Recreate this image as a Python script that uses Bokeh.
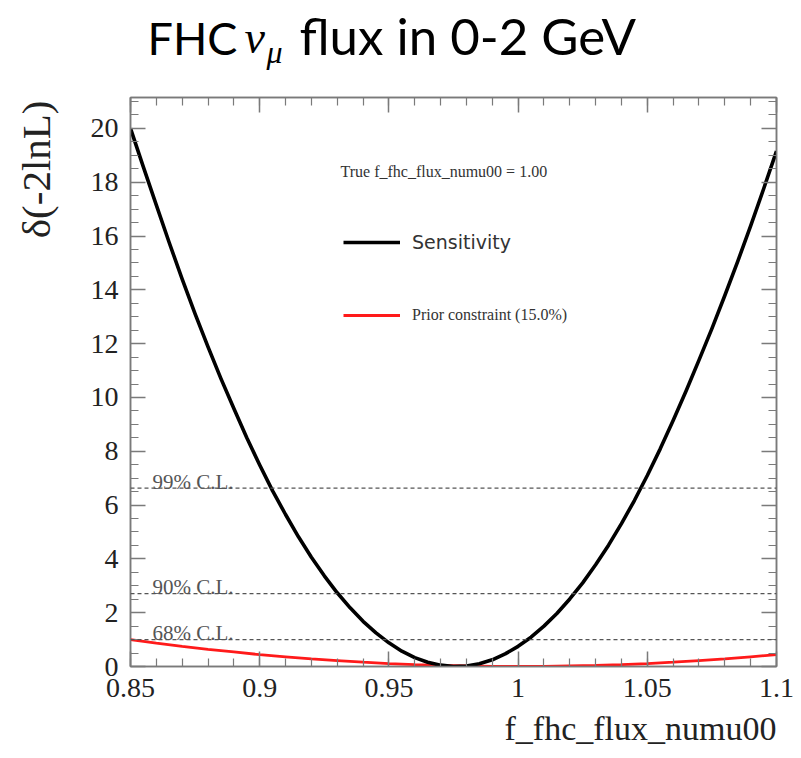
import numpy as np
from bokeh.plotting import figure
from bokeh.layouts import column, row
from bokeh.models import (FixedTicker, LinearAxis, Range1d, Span, Label, Title,
                          Legend, LegendItem, CustomJSTickFormatter)
from bokeh.embed import file_html
from bokeh.resources import INLINE

# ---------------- data ----------------
param_x = [0.85, 0.855, 0.86, 0.865, 0.87, 0.875, 0.88, 0.885, 0.89, 0.895,
           0.90, 0.905, 0.91, 0.915, 0.92, 0.925, 0.93, 0.935, 0.94, 0.945,
           0.95, 0.955, 0.96, 0.965, 0.97, 0.975, 0.98, 0.985, 0.99, 0.995,
           1.00, 1.005, 1.01, 1.015, 1.02, 1.025, 1.03, 1.035, 1.04, 1.045,
           1.05, 1.055, 1.06, 1.065, 1.07, 1.075, 1.08, 1.085, 1.09, 1.095, 1.10]
sensitivity = [20.0, 18.56, 17.15, 15.75, 14.40, 13.11, 11.88, 10.70, 9.59, 8.50,
               7.49, 6.53, 5.65, 4.82, 4.06, 3.37, 2.74, 2.18, 1.68, 1.25,
               0.88, 0.57, 0.33, 0.16, 0.05, 0.00, 0.02, 0.10, 0.25, 0.47,
               0.75, 1.09, 1.50, 1.97, 2.51, 3.11, 3.78, 4.51, 5.31, 6.17,
               7.10, 8.09, 9.14, 10.24, 11.39, 12.56, 13.79, 15.06, 16.38, 17.75, 19.16]

prior_x = [0.85, 0.86, 0.87, 0.88, 0.89, 0.90, 0.91, 0.92, 0.93, 0.94, 0.95,
           0.96, 0.97, 0.98, 0.99, 1.00, 1.01, 1.02, 1.03, 1.04, 1.05, 1.06,
           1.07, 1.08, 1.09, 1.10]
prior = [1.00, 0.87, 0.75, 0.64, 0.54, 0.44, 0.36, 0.28, 0.22, 0.16, 0.11,
         0.07, 0.04, 0.02, 0.00, 0.00, 0.00, 0.02, 0.04, 0.07, 0.11, 0.16,
         0.22, 0.28, 0.36, 0.44]

cl_levels = [1.0, 2.71, 6.63]
cl_labels = ["68% C.L.", "90% C.L.", "99% C.L."]

x_ticks = [0.85, 0.9, 0.95, 1.0, 1.05, 1.1]
x_tick_labels = ["0.85", "0.9", "0.95", "1", "1.05", "1.1"]
y_ticks = [0, 2, 4, 6, 8, 10, 12, 14, 16, 18, 20]
y_tick_labels = ["0", "2", "4", "6", "8", "10", "12", "14", "16", "18", "20"]

x_minor = [round(v, 2) for v in np.arange(0.85, 1.1001, 0.01)]
y_minor = [round(v, 1) for v in np.arange(0, 21.2, 0.5)]

title_parts = ["FHC", "\u03bd", "\u03bc", "flux in 0-2 GeV"]
y_title = "\u03b4(-2lnL)"
x_title = "f_fhc_flux_numu00"
true_text = "True f_fhc_flux_numu00 = 1.00"
legend_labels = ["Sensitivity", "Prior constraint (15.0%)"]

# ---------------- layout numbers ----------------
W, HT = 801, 758
TH = 80                 # title strip height
YW = 60                 # y-title strip width
H = HT - TH             # main figure height
FL, FR, FT, FB = 130, 776, 97, 666   # wanted frame box in page pixels
T, B = FT - TH, HT - FB
serif = "Liberation Serif"
axis_col = "#7a7a7a"


def shift(size):
    # alphabetic baseline correction of the SVG text renderer
    return 0.44 * size


# ---------------- title strip ----------------
tp = figure(width=W, height=TH, output_backend="svg", toolbar_location=None,
            x_range=Range1d(0, W), y_range=Range1d(0, TH),
            x_axis_location=None, y_axis_location=None, min_border=0)
tp.grid.visible = False
tp.outline_line_color = None

tfont = "Lato"
for txt, x0, base, size, font, style in [
        (title_parts[0], 147, 57, 45, tfont, "normal"),
        (title_parts[1], 244, 57, 46, serif, "italic"),
        (title_parts[2], 266, 66, 32, serif, "italic"),
        (title_parts[3], 299, 57, 51, tfont, "normal")]:
    tp.add_layout(Label(x=x0, y=TH - base + shift(size), x_units="screen",
                        y_units="screen", text=txt, text_font=font,
                        text_font_size=f"{size}px", text_font_style=style,
                        text_baseline="alphabetic", text_color="black"))

# ---------------- y-title strip ----------------
ys = figure(width=YW, height=H, output_backend="svg", toolbar_location=None,
            x_range=Range1d(0, YW), y_range=Range1d(0, H),
            x_axis_location=None, y_axis_location=None,
            min_border_left=0, min_border_right=0,
            min_border_top=T, min_border_bottom=B)
ys.grid.visible = False
ys.outline_line_color = None
ys.add_layout(Label(x=35, y=FB - 100, x_units="screen", y_units="screen",
                    text=y_title, text_font=serif, text_font_size="41px",
                    angle=np.pi / 2, text_align="right", text_baseline="middle",
                    text_color="#222222"))

# ---------------- main plot ----------------
p = figure(width=W - YW, height=H, output_backend="svg", toolbar_location=None,
           x_range=Range1d(0.85, 1.1), y_range=Range1d(0, 21.15),
           x_axis_location=None, y_axis_location=None,
           min_border_left=FL - YW, min_border_right=W - FR,
           min_border_top=T, min_border_bottom=B)
p.grid.visible = False
p.outline_line_color = axis_col
p.outline_line_width = 1.5

xt = FixedTicker(ticks=x_ticks, minor_ticks=x_minor)
yt = FixedTicker(ticks=y_ticks, minor_ticks=y_minor)
x_over = {float(v): s for v, s in zip(x_ticks, x_tick_labels)}
y_over = {float(v): s for v, s in zip(y_ticks, y_tick_labels)}
blank = CustomJSTickFormatter(code="return ''")


def style_axis(ax, labels=True):
    ax.axis_line_color = axis_col
    ax.axis_line_width = 1.5
    ax.major_tick_line_color = axis_col
    ax.minor_tick_line_color = axis_col
    ax.major_tick_line_width = 1.5
    ax.minor_tick_line_width = 1.2
    ax.major_tick_in = 15
    ax.major_tick_out = 0
    ax.minor_tick_in = 8
    ax.minor_tick_out = 0
    ax.major_label_text_font = serif
    ax.major_label_text_font_size = "28px"
    ax.major_label_text_color = "#222222"
    if not labels:
        ax.formatter = blank
        ax.major_label_standoff = 0


bx = LinearAxis(ticker=xt, major_label_overrides=x_over)
style_axis(bx)
bx.major_label_standoff = 12
p.add_layout(bx, "below")

ly = LinearAxis(ticker=yt, major_label_overrides=y_over)
style_axis(ly)
ly.major_label_standoff = 12
p.add_layout(ly, "left")

tax = LinearAxis(ticker=xt)
style_axis(tax, labels=False)
p.add_layout(tax, "above")

ry = LinearAxis(ticker=yt)
style_axis(ry, labels=False)
p.add_layout(ry, "right")

# x title (ROOT style: right end of the axis)
p.add_layout(Title(text=x_title, align="right", text_font=serif,
                   text_font_size="34px", text_font_style="normal",
                   text_color="#222222", standoff=17), "below")

# C.L. lines
for lev, lab in zip(cl_levels, cl_labels):
    p.add_layout(Span(location=lev, dimension="width", line_color="#555555",
                      line_dash="4 3", line_width=1.3))
    p.add_layout(Label(x=0.85, y=lev, x_offset=22, y_offset=shift(21) - 3,
                       text=lab, text_font=serif, text_font_size="21px",
                       text_color="#555555", text_baseline="alphabetic"))

# curves
r_prior = p.line(prior_x, prior, line_color="#ff1a1a", line_width=2.8)
r_sens = p.line(param_x, sensitivity, line_color="black", line_width=3.6,
                line_join="round")

# legends
leg1 = Legend(items=[LegendItem(label=legend_labels[0], renderers=[r_sens])],
              location=(343 - FL, FB - 243 - 10), glyph_width=57, glyph_height=20,
              label_height=20, label_standoff=12, padding=0, margin=0,
              border_line_color=None, background_fill_alpha=0,
              label_text_font="DejaVu Sans", label_text_font_size="19px",
              label_text_color="#333333")
leg2 = Legend(items=[LegendItem(label=legend_labels[1], renderers=[r_prior])],
              location=(343 - FL, FB - 315 - 10), glyph_width=57, glyph_height=20,
              label_height=20, label_standoff=12, padding=0, margin=0,
              border_line_color=None, background_fill_alpha=0,
              label_text_font=serif, label_text_font_size="16px",
              label_text_color="#333333")
p.add_layout(leg1, "center")
p.add_layout(leg2, "center")

# "True ..." note (positions relative to the plot frame)
p.add_layout(Label(x=340 - FL, y=FB - 177 + shift(16) - 1, x_units="screen",
                   y_units="screen", text=true_text, text_font=serif,
                   text_font_size="16px", text_color="#333333",
                   text_baseline="alphabetic"))

layout = column(tp, row(ys, p, spacing=0), spacing=0)
open("out.html", "w").write(file_html(layout, INLINE))
